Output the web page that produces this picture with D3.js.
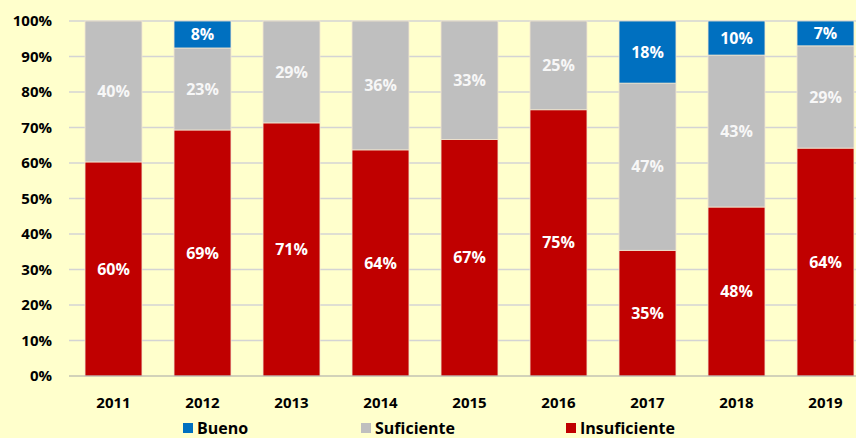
<!DOCTYPE html>
<html lang="es">
<head>
<meta charset="UTF-8">
<title>Niveles de logro</title>
<script src="https://d3js.org/d3.v7.min.js"></script>
<style>
  body { margin: 0; background: #FFFFCC; overflow: hidden; }
  svg { display: block; font-family: "Open Sans", "DejaVu Sans", sans-serif; font-weight: bold; }
</style>
</head>
<body>
<div id="chart"></div>
<script>
// Datos del gráfico
const years = ["2011", "2012", "2013", "2014", "2015", "2016", "2017", "2018", "2019"];
const insuficiente = [60.3, 69.3, 71.3, 63.7, 66.6, 75.0, 35.4, 47.6, 64.2];
const suficiente   = [39.7, 23.1, 28.7, 36.3, 33.4, 25.0, 47.1, 42.8, 28.8];
const bueno        = [0,    7.6,  0,    0,    0,    0,    17.5, 9.6,  7.0];
const yTicks = [0, 10, 20, 30, 40, 50, 60, 70, 80, 90, 100];

const series = [
  { name: "Insuficiente", values: insuficiente, color: "#C00000" },
  { name: "Suficiente", values: suficiente, color: "#BFBFBF" },
  { name: "Bueno", values: bueno, color: "#0070C0" }
];
const legendOrder = ["Bueno", "Suficiente", "Insuficiente"];

const W = 856, H = 438;
const margin = { top: 21, left: 69, bottom: 62 };
const plotH = H - margin.top - margin.bottom;

const svg = d3.select("#chart").append("svg")
  .attr("width", W).attr("height", H);

svg.append("rect").attr("width", W).attr("height", H).attr("fill", "#FFFFCC");

const x = d3.scaleBand()
  .domain(years)
  .range([margin.left, margin.left + 89 * years.length])
  .paddingInner(0.36)
  .paddingOuter(0.18);

const y = d3.scaleLinear()
  .domain([0, 100])
  .range([margin.top + plotH, margin.top]);

// Líneas de cuadrícula
svg.append("g")
  .selectAll("line")
  .data(yTicks.filter(d => d > 0))
  .join("line")
  .attr("x1", margin.left).attr("x2", W)
  .attr("y1", d => y(d)).attr("y2", d => y(d))
  .attr("stroke", "#D4D4D4").attr("stroke-width", 1.3);

// Eje Y
const yAxis = svg.append("g")
  .attr("transform", `translate(${margin.left},0)`)
  .call(d3.axisLeft(y).tickValues(yTicks).tickFormat(d => d + "%").tickSize(0).tickPadding(17));
yAxis.select(".domain").remove();
yAxis.selectAll("text").attr("font-size", 15).attr("font-weight", "bold").attr("fill", "#000")
  .attr("font-family", "'Open Sans', sans-serif");

// Barras apiladas
const stackData = years.map((yr, i) => {
  let acc = 0;
  return series.map(s => {
    const v = s.values[i];
    const seg = { year: yr, name: s.name, color: s.color, y0: acc, y1: acc + v, v: v };
    acc += v;
    return seg;
  });
}).flat().filter(d => d.v > 0);

svg.append("g")
  .selectAll("rect")
  .data(stackData)
  .join("rect")
  .attr("x", d => x(d.year))
  .attr("width", x.bandwidth())
  .attr("y", d => y(d.y1))
  .attr("height", d => y(d.y0) - y(d.y1))
  .attr("fill", d => d.color)
  .attr("stroke", "#F2E6D0")
  .attr("stroke-width", 0.8);

svg.append("g")
  .selectAll("text")
  .data(stackData)
  .join("text")
  .attr("x", d => x(d.year) + x.bandwidth() / 2)
  .attr("y", d => y((d.y0 + d.y1) / 2))
  .attr("dy", "0.35em")
  .attr("text-anchor", "middle")
  .attr("font-size", 16)
  .attr("fill", d => d.name === "Suficiente" ? "#F7F7F7" : "#FFFFFF")
  .text(d => Math.round(d.v) + "%");

// Eje X
svg.append("line")
  .attr("x1", margin.left).attr("x2", W)
  .attr("y1", y(0)).attr("y2", y(0))
  .attr("stroke", "#A6A6A6").attr("stroke-width", 1.2);

svg.append("g")
  .selectAll("text")
  .data(years)
  .join("text")
  .attr("x", d => x(d) + x.bandwidth() / 2)
  .attr("y", y(0) + 32)
  .attr("text-anchor", "middle")
  .attr("font-size", 15)
  .attr("fill", "#000")
  .text(d => d);

// Leyenda
const legendX = [183, 361, 566];
const legend = svg.append("g")
  .selectAll("g")
  .data(legendOrder)
  .join("g")
  .attr("transform", (d, i) => `translate(${legendX[i]},${H - 10})`);
legend.append("rect")
  .attr("width", 10).attr("height", 10).attr("y", -5)
  .attr("fill", d => series.find(s => s.name === d).color);
legend.append("text")
  .attr("x", 14).attr("y", 0).attr("dy", "0.36em")
  .attr("font-size", 16).attr("fill", "#000")
  .text(d => d);
</script>
</body>
</html>
